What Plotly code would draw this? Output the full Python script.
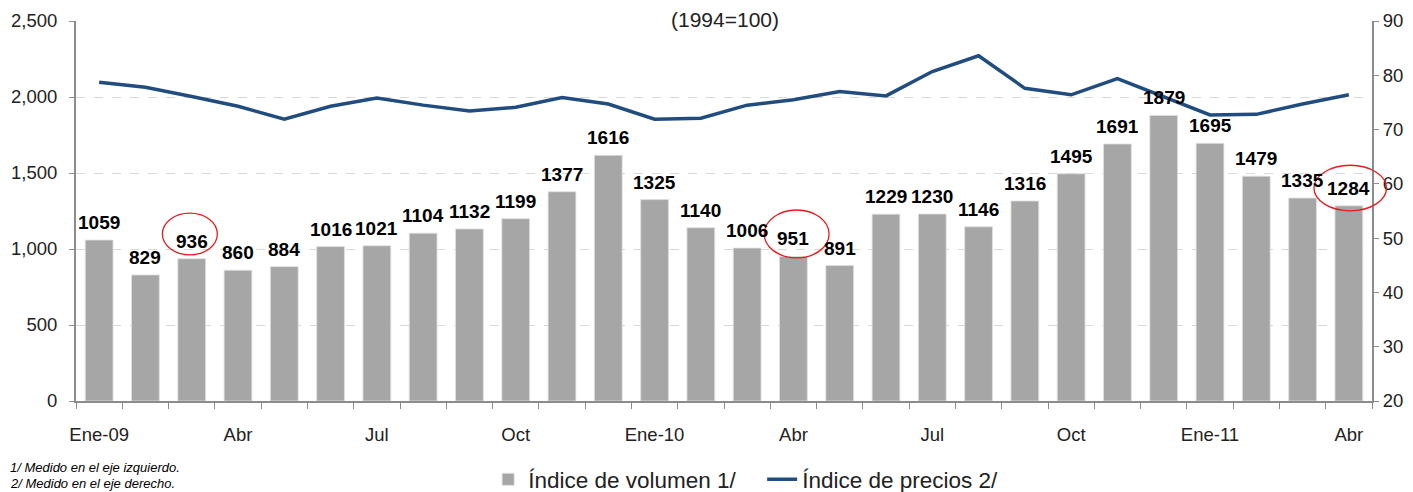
import plotly.graph_objects as go

months = ["Ene-09", "Feb", "Mar", "Abr", "May", "Jun", "Jul", "Ago", "Sep", "Oct", "Nov", "Dic",
          "Ene-10", "Feb", "Mar", "Abr", "May", "Jun", "Jul", "Ago", "Sep", "Oct", "Nov", "Dic",
          "Ene-11", "Feb", "Mar", "Abr"]
volumen = [1059, 829, 936, 860, 884, 1016, 1021, 1104, 1132, 1199, 1377, 1616,
           1325, 1140, 1006, 951, 891, 1229, 1230, 1146, 1316, 1495, 1691, 1879,
           1695, 1479, 1335, 1284]
precios = [78.7, 77.8, 76.1, 74.3, 71.9, 74.3, 75.8, 74.5, 73.4, 74.1, 75.9, 74.7,
           71.9, 72.1, 74.5, 75.5, 77.0, 76.2, 80.7, 83.6, 77.6, 76.4, 79.4, 76.1,
           72.7, 72.8, 74.7, 76.4]
tick_idx = [0, 3, 6, 9, 12, 15, 18, 21, 24, 27]
tick_text = ["Ene-09", "Abr", "Jul", "Oct", "Ene-10", "Abr", "Jul", "Oct", "Ene-11", "Abr"]
circled = [2, 15, 27]

x = list(range(len(months)))
n = len(months)
FONT = "Arial, Liberation Sans, sans-serif"

fig = go.Figure()
fig.add_trace(go.Bar(
    x=x, y=volumen, name="Índice de volumen 1/",
    marker=dict(color="#a6a6a6", line=dict(color="#e0e0e0", width=0.8)),
    width=0.6,
    customdata=months, hovertemplate="%{customdata}: %{y}<extra></extra>",
))
fig.add_trace(go.Scatter(
    x=x, y=precios, name="Índice de precios 2/", yaxis="y2", mode="lines",
    line=dict(color="#214c80", width=3.5),
    customdata=months, hovertemplate="%{customdata}: %{y}<extra></extra>",
))

# value labels above bars
for i, v in enumerate(volumen):
    fig.add_annotation(x=i, y=v, xref="x", yref="y", text=str(v), showarrow=False,
                       yanchor="bottom", yshift=5,
                       font=dict(family=FONT, size=19, color="#000000", weight="bold"))

# red ellipses around highlighted labels (paper coords so they are not clipped)
ell_dx = [-0.04, 0.07, 0.03]       # horizontal nudge, in categories
ell_dy = [163, 148, 117]           # centre above bar top, in left-axis units
ell_hw = [0.0212, 0.025, 0.028]    # half width, paper
ell_hh = [0.055, 0.063, 0.06]      # half height, paper
for k, i in enumerate(circled):
    cx = (i + 0.5 + ell_dx[k]) / n
    cy = (volumen[i] + ell_dy[k]) / 2500
    fig.add_shape(type="circle", xref="paper", yref="paper",
                  x0=cx - ell_hw[k], x1=cx + ell_hw[k],
                  y0=cy - ell_hh[k], y1=cy + ell_hh[k],
                  line=dict(color="#e8191c", width=1.3), layer="above")

fig.add_annotation(text="(1994=100)", xref="paper", yref="paper", x=0.501, y=1.04,
                   xanchor="center", yanchor="top", showarrow=False,
                   font=dict(family=FONT, size=21, color="#222222"))
fig.add_annotation(text="<i>1/ Medido en el eje izquierdo.</i>", xref="paper", yref="paper",
                   x=-0.0525, y=-0.176, xanchor="left", yanchor="middle", showarrow=False,
                   font=dict(family=FONT, size=13, color="#000000"))
fig.add_annotation(text="<i>2/ Medido en el eje derecho.</i>", xref="paper", yref="paper",
                   x=-0.0525, y=-0.218, xanchor="left", yanchor="middle", showarrow=False,
                   font=dict(family=FONT, size=13, color="#000000"))

axis_col = "#8c8c8c"
fig.update_layout(
    width=1405, height=484,
    margin=dict(l=68, r=41, t=13, b=91, autoexpand=False),
    paper_bgcolor="white", plot_bgcolor="white",
    font=dict(family=FONT, color="#222222"),
    showlegend=True,
    legend=dict(orientation="h", x=0.318, xanchor="left", y=-0.207, yanchor="middle",
                font=dict(family=FONT, size=22.5, color="#222222"), itemwidth=30,
                entrywidth=229, entrywidthmode="pixels",
                traceorder="normal", bgcolor="rgba(0,0,0,0)"),
    bargap=0.4,
    xaxis=dict(range=[-0.5, n - 0.5], tickmode="array", tickvals=tick_idx, ticktext=tick_text,
               ticks="outside", ticklen=16, tickcolor="rgba(0,0,0,0)",
               tickfont=dict(family=FONT, size=18.5, color="#222222"),
               showline=True, linecolor=axis_col, linewidth=2, showgrid=False, zeroline=False,
               minor=dict(tickmode="linear", tick0=-0.5, dtick=1, ticks="outside", ticklen=6,
                          tickcolor=axis_col, tickwidth=1, showgrid=False)),
    yaxis=dict(range=[0, 2500], dtick=500, tickformat=",", ticks="outside", ticklen=5,
               tickcolor=axis_col, showline=True, linecolor=axis_col, linewidth=2,
               showgrid=True, gridcolor="#d9d9d9", griddash="dash", gridwidth=1, zeroline=False,
               tickfont=dict(family=FONT, size=18.5, color="#222222"), ticklabelstandoff=8),
    yaxis2=dict(range=[20, 90], dtick=10, overlaying="y", side="right", ticks="outside",
                ticklen=5, tickcolor=axis_col, showline=True, linecolor=axis_col, linewidth=2,
                showgrid=False, zeroline=False,
                tickfont=dict(family=FONT, size=18.5, color="#222222")),
)

fig.write_html("out.html")
